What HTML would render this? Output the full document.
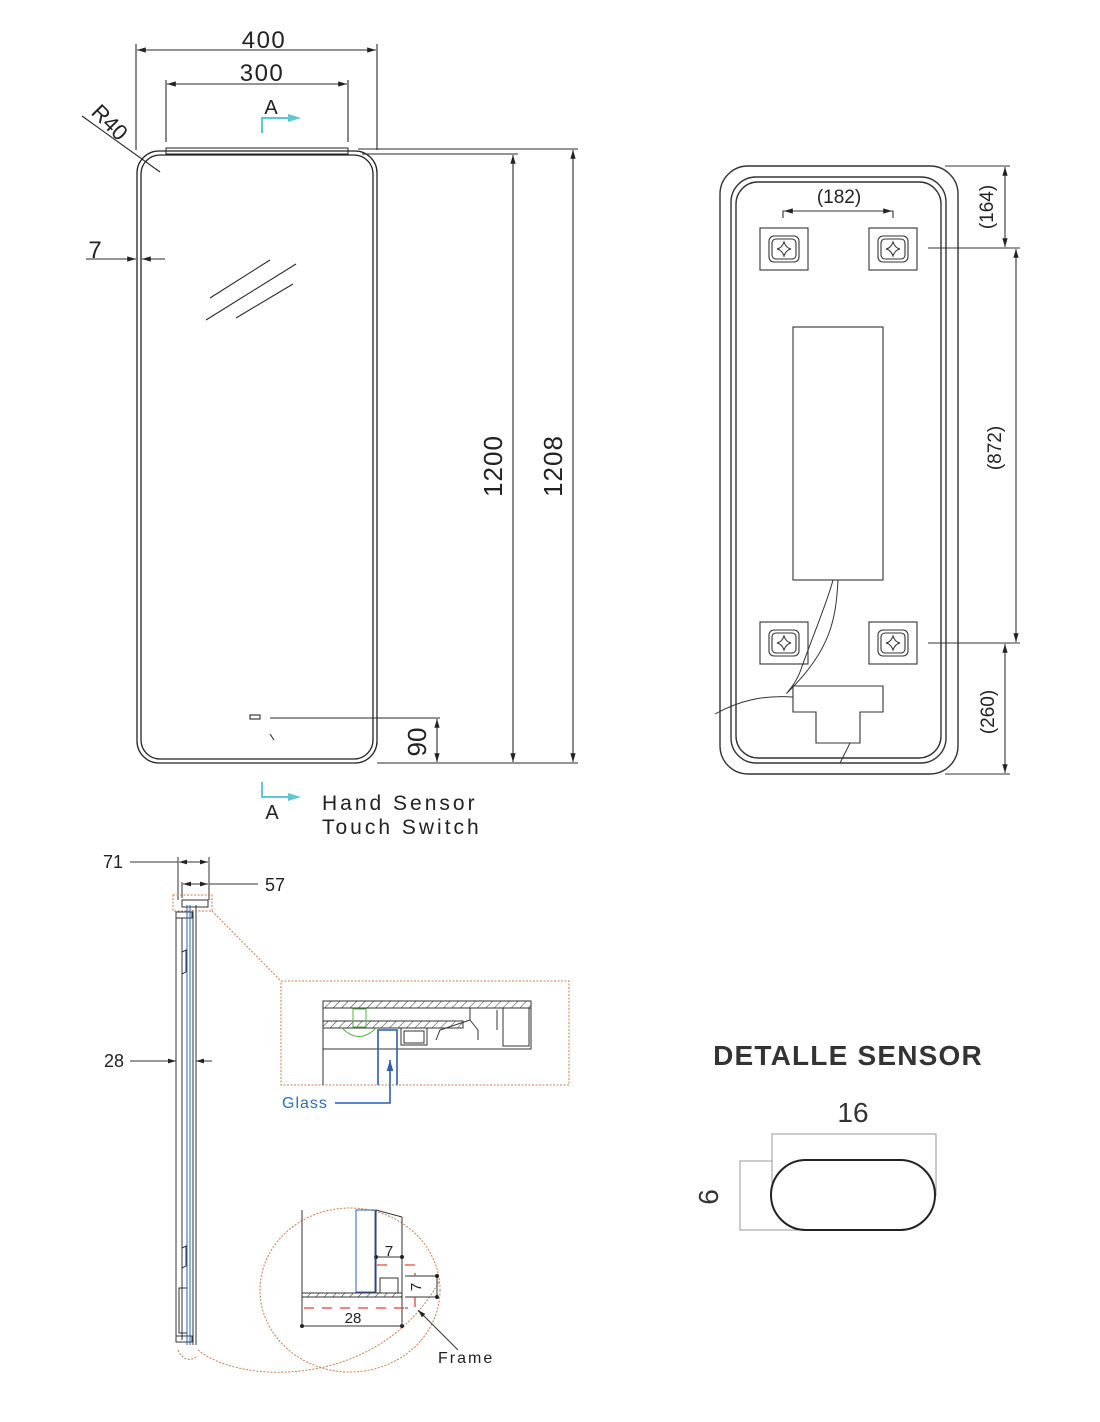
<!DOCTYPE html>
<html><head><meta charset="utf-8"><style>
html,body{margin:0;padding:0;background:#fff}
svg{display:block}
text{font-family:"Liberation Sans",sans-serif;fill:#222}
</style></head><body>
<svg width="1100" height="1422" viewBox="0 0 1100 1422" xmlns="http://www.w3.org/2000/svg">
<defs>
<marker id="ar" viewBox="0 0 10 10" refX="10" refY="5" markerWidth="8" markerHeight="8" orient="auto-start-reverse"><path d="M0,2 L10,5 L0,8 z" fill="#222"/></marker>
<marker id="ab" viewBox="0 0 10 10" refX="10" refY="5" markerWidth="7" markerHeight="7" orient="auto-start-reverse"><path d="M0,2 L10,5 L0,8 z" fill="#2a5fb0"/></marker>
<marker id="dot" viewBox="0 0 6 6" refX="3" refY="3" markerWidth="4" markerHeight="4"><circle cx="3" cy="3" r="3" fill="#222"/></marker>
<pattern id="hatch" width="6" height="6" patternUnits="userSpaceOnUse" patternTransform="rotate(45)"><line x1="0" y1="0" x2="0" y2="6" stroke="#333" stroke-width="1"/></pattern>
</defs>

<!-- FRONT VIEW -->
<g fill="none" stroke="#222" stroke-width="1.3">
<rect x="137" y="151" width="240" height="612" rx="22"/>
<rect x="141" y="155" width="232" height="604" rx="19"/>
<rect x="166" y="148" width="182" height="6" stroke-width="1"/>
</g>
<g stroke="#2a2a2a" stroke-width="1.1" fill="none">
<line x1="136" y1="44" x2="136" y2="150"/><line x1="377" y1="44" x2="377" y2="150"/>
<line x1="137" y1="50" x2="376" y2="50" marker-start="url(#ar)" marker-end="url(#ar)"/>
<line x1="166" y1="80" x2="166" y2="142"/><line x1="348" y1="80" x2="348" y2="142"/>
<line x1="167" y1="84" x2="347" y2="84" marker-start="url(#ar)" marker-end="url(#ar)"/>
<line x1="82" y1="116" x2="160" y2="172"/>
<line x1="86" y1="259" x2="136" y2="259" marker-end="url(#ar)"/>
<line x1="165" y1="259" x2="142" y2="259" marker-end="url(#ar)"/>
<line x1="210" y1="298" x2="270" y2="260"/><line x1="206" y1="320" x2="296" y2="264"/><line x1="236" y1="318" x2="293" y2="284"/>
<line x1="358" y1="149" x2="578" y2="149"/><line x1="362" y1="154" x2="518" y2="154"/>
<line x1="377" y1="763" x2="578" y2="763"/>
<line x1="513" y1="155" x2="513" y2="762" marker-start="url(#ar)" marker-end="url(#ar)"/>
<line x1="573" y1="150" x2="573" y2="762" marker-start="url(#ar)" marker-end="url(#ar)"/>
<line x1="270" y1="718" x2="440" y2="718"/>
<line x1="437" y1="719" x2="437" y2="762" marker-start="url(#ar)" marker-end="url(#ar)"/>
<rect x="250" y="715" width="10" height="4"/>
<line x1="270" y1="734" x2="274" y2="740"/>
</g>
<text x="264" y="48" font-size="24" text-anchor="middle" letter-spacing="1.5">400</text>
<text x="262" y="81" font-size="24" text-anchor="middle" letter-spacing="1.5">300</text>
<text x="271" y="114" font-size="20" text-anchor="middle">A</text>
<text x="110" y="130" font-size="22" text-anchor="middle" transform="rotate(45 110 122)">R40</text>
<text x="95" y="258" font-size="24" text-anchor="middle">7</text>
<text x="0" y="0" font-size="26" text-anchor="middle" letter-spacing="1" transform="translate(502 466) rotate(-90)">1200</text>
<text x="0" y="0" font-size="26" text-anchor="middle" letter-spacing="1" transform="translate(562 466) rotate(-90)">1208</text>
<text x="0" y="0" font-size="26" text-anchor="middle" transform="translate(426 742) rotate(-90)">90</text>
<g stroke="#5cc8d0" stroke-width="2" fill="none">
<path d="M262 133 V118 H290"/><path d="M262 782 V797 H290"/>
</g>
<path d="M288 114 L301 118 L288 122z" fill="#5cc8d0"/><path d="M288 793 L301 797 L288 801z" fill="#5cc8d0"/>
<text x="272" y="819" font-size="20" text-anchor="middle">A</text>
<text x="322" y="810" font-size="21" letter-spacing="3">Hand Sensor</text>
<text x="322" y="834" font-size="21" letter-spacing="3">Touch Switch</text>

<!-- BACK VIEW -->
<g fill="none" stroke="#333" stroke-width="1.4">
<rect x="720" y="166" width="238" height="608" rx="28"/>
<rect x="731" y="177" width="215" height="586" rx="25"/>
<rect x="736" y="182" width="205" height="576" rx="22"/>
<rect x="793" y="327" width="90" height="253" stroke-width="1.1"/>
<path d="M793 686 H883 V712 H860 V743 H816 V712 H793 Z" stroke-width="1.1"/>
<path d="M838 580 C836 620 830 650 790 690 C780 700 795 686 800 672 C815 630 828 600 833 580" stroke-width="1"/>
<path d="M715 714 C740 700 765 695 793 697" stroke-width="1"/>
<path d="M850 743 L840 763" stroke-width="1"/>
</g>
<g fill="none" stroke="#333" stroke-width="1.1">
<g id="br"><rect x="760" y="228" width="48" height="42"/><rect x="769" y="236" width="30" height="26" rx="5"/><rect x="772" y="239" width="24" height="20" rx="4"/><path d="M784 242 Q786 248 791 249 Q786 250 784 256 Q782 250 777 249 Q782 248 784 242z"/></g>
<use href="#br" x="109"/>
<use href="#br" y="394"/>
<use href="#br" x="109" y="394"/>
<path d="M783 218 V211 H893 V218"/>
<line x1="784" y1="211" x2="892" y2="211" marker-start="url(#ar)" marker-end="url(#ar)"/>
<line x1="945" y1="166" x2="1010" y2="166"/><line x1="928" y1="248" x2="1020" y2="248"/>
<line x1="928" y1="643" x2="1020" y2="643"/><line x1="945" y1="774" x2="1010" y2="774"/>
<line x1="1005" y1="167" x2="1005" y2="247" marker-start="url(#ar)" marker-end="url(#ar)"/>
<line x1="1016" y1="249" x2="1016" y2="642" marker-start="url(#ar)" marker-end="url(#ar)"/>
<line x1="1005" y1="644" x2="1005" y2="773" marker-start="url(#ar)" marker-end="url(#ar)"/>
</g>
<text x="839" y="203" font-size="19" text-anchor="middle">(182)</text>
<text x="0" y="0" font-size="19" text-anchor="middle" transform="translate(993 207) rotate(-90)">(164)</text>
<text x="0" y="0" font-size="19" text-anchor="middle" transform="translate(1001 448) rotate(-90)">(872)</text>
<text x="0" y="0" font-size="19" text-anchor="middle" transform="translate(994 712) rotate(-90)">(260)</text>

<!-- SIDE VIEW -->
<g stroke="#333" stroke-width="1" fill="none">
<line x1="130" y1="862" x2="178" y2="862"/><line x1="178" y1="857" x2="178" y2="900"/><line x1="209" y1="857" x2="209" y2="900"/>
<line x1="179" y1="862" x2="208" y2="862" marker-start="url(#ar)" marker-end="url(#ar)"/>
<line x1="182" y1="882" x2="182" y2="898"/>
<line x1="183" y1="884" x2="208" y2="884" marker-start="url(#ar)" marker-end="url(#ar)"/>
<line x1="209" y1="884" x2="258" y2="884"/>
<line x1="130" y1="1061" x2="176" y2="1061" marker-end="url(#ar)"/>
<line x1="212" y1="1061" x2="196" y2="1061" marker-end="url(#ar)"/>
<line x1="176" y1="912" x2="176" y2="1342"/><line x1="182" y1="918" x2="182" y2="1340"/>
<line x1="193" y1="910" x2="193" y2="1345"/><line x1="196" y1="905" x2="196" y2="1345"/>
<rect x="176" y="912" width="16" height="6"/><rect x="176" y="1336" width="16" height="6"/>
<rect x="182" y="900" width="26" height="7"/>
<path d="M182 952 L186 950 V972 L182 974"/><path d="M182 1248 L186 1246 V1266 L182 1268"/>
<rect x="179" y="1288" width="8" height="45"/>
</g>
<g stroke="#2a5fb0" stroke-width="1" fill="none"><line x1="187" y1="905" x2="187" y2="1345"/><line x1="190" y1="905" x2="190" y2="1345"/></g>
<text x="113" y="868" font-size="18" text-anchor="middle">71</text>
<text x="275" y="891" font-size="18" text-anchor="middle">57</text>
<text x="114" y="1067" font-size="18" text-anchor="middle">28</text>

<g stroke="#d27a4a" stroke-width="1" stroke-dasharray="2 1.5" fill="none">
<rect x="173" y="895" width="39" height="16"/>
<line x1="212" y1="911" x2="281" y2="981"/>
<rect x="281" y="981" width="288" height="104"/>
<path d="M178 1350 Q185 1365 198 1356"/>
<path d="M198 1350 C240 1385 380 1390 440 1280"/>
<ellipse cx="350" cy="1290" rx="90" ry="82"/>
</g>
<g stroke="#333" stroke-width="1" fill="none">
<rect x="323" y="1001" width="208" height="7" fill="url(#hatch)"/>
<rect x="323" y="1021" width="140" height="7" fill="url(#hatch)"/>
<rect x="323" y="1001" width="208" height="48"/>
<line x1="323" y1="1049" x2="323" y2="1085"/>
<rect x="401" y="1028" width="26" height="17"/><rect x="404" y="1031" width="20" height="12"/>
<path d="M433 1008 H470 V1020 L478 1030 V1040 M470 1020 L440 1030 L436 1040"/>
<rect x="503" y="1008" width="26" height="38"/><line x1="497" y1="1010" x2="497" y2="1030"/>
</g>
<g stroke="#5ab04c" stroke-width="1" fill="none"><rect x="353" y="1009" width="13" height="18"/><path d="M342 1028 Q359 1045 376 1028"/></g>
<g stroke="#2a5fb0" stroke-width="1.6" fill="none">
<path d="M378 1085 V1030 H397 V1085"/>
<path d="M335 1103 H390 V1060" marker-end="url(#ab)"/>
</g>
<text x="282" y="1108" font-size="16" style="fill:#2a6fb8" letter-spacing="1">Glass</text>

<g stroke="#333" stroke-width="1" fill="none">
<line x1="302" y1="1210" x2="302" y2="1293"/>
<line x1="376" y1="1210" x2="376" y2="1293"/>
<line x1="402" y1="1217" x2="402" y2="1293"/>
<path d="M376 1210 L402 1217"/>
<rect x="302" y="1293" width="100" height="4" fill="url(#hatch)"/>
<rect x="380" y="1278" width="18" height="15"/>
<line x1="376" y1="1257" x2="402" y2="1257" marker-start="url(#dot)" marker-end="url(#dot)"/>
<line x1="405" y1="1276" x2="437" y2="1276"/><line x1="405" y1="1297" x2="437" y2="1297"/>
<line x1="437" y1="1276" x2="437" y2="1297" marker-start="url(#dot)" marker-end="url(#dot)"/>
<line x1="302" y1="1326" x2="402" y2="1326" marker-start="url(#dot)" marker-end="url(#dot)"/>
<line x1="302" y1="1297" x2="302" y2="1326"/><line x1="402" y1="1297" x2="402" y2="1326"/>
<line x1="458" y1="1350" x2="418" y2="1310" marker-end="url(#ar)"/>
</g>
<g stroke="#2a5fb0" stroke-width="1" fill="none"><rect x="356" y="1210" width="19" height="82"/></g>
<g stroke="#e0453a" stroke-width="1.3" fill="none" stroke-dasharray="10 8">
<line x1="304" y1="1308" x2="405" y2="1308"/>
<path d="M377 1265 H390 M405 1265 H415 V1276 M415 1297 V1308 H405"/>
</g>
<text x="389" y="1256" font-size="15" text-anchor="middle">7</text>
<text x="0" y="0" font-size="15" text-anchor="middle" transform="translate(421 1287) rotate(-90)">7</text>
<text x="353" y="1323" font-size="15" text-anchor="middle">28</text>
<text x="438" y="1363" font-size="16" letter-spacing="2">Frame</text>

<text x="848" y="1065" font-size="28" font-weight="bold" text-anchor="middle" letter-spacing="1.2" style="fill:#333">DETALLE SENSOR</text>
<text x="853" y="1122" font-size="28" text-anchor="middle" style="fill:#333">16</text>
<g stroke="#999" stroke-width="1" fill="none">
<path d="M772 1183 V1134 H936 V1196"/>
<path d="M772 1161 H740 V1230 H820"/>
</g>
<rect x="771" y="1160" width="164" height="70" rx="35" fill="none" stroke="#222" stroke-width="2"/>
<text x="0" y="0" font-size="28" text-anchor="middle" transform="translate(718 1197) rotate(-90)" style="fill:#333">6</text>
</svg>
</body></html>
